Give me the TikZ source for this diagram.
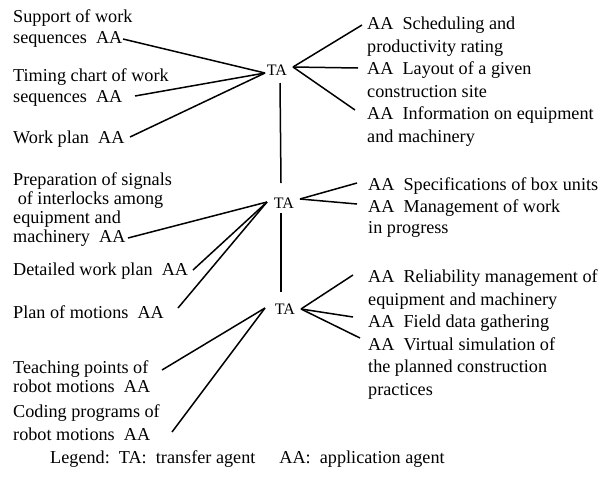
\documentclass[tikz,border=0pt]{standalone}
\usepackage{fontspec}
\setmainfont{Liberation Serif}
\begin{document}
\begin{tikzpicture}[x=1pt,y=-1pt,
  aa/.style={inner sep=0pt, anchor=base west, align=left, font=\fontsize{18.2}{21}\selectfont},
  aatight/.style={aa, font=\fontsize{18.2}{19}\selectfont},
  aawide/.style={aa, font=\fontsize{18.2}{22.5}\selectfont},
  rr/.style={aa, font=\fontsize{18.2}{23}\selectfont},
  ta/.style={inner sep=0pt, font=\fontsize{16}{16}\selectfont},
  link/.style={line width=1.5pt}]
\useasboundingbox (0,0) rectangle (616,483);

% transfer agents
\node[ta] (ta1) at (277,70) {TA};
\node[ta] (ta2) at (284,203) {TA};
\node[ta] (ta3) at (285,309) {TA};

% left application agents (anchor = baseline of last line)
\node[aa] (l1) at (13,43) {Support of work\\sequences\ \ AA};
\node[aa] (l2) at (13,102) {Timing chart of work\\sequences\ \ AA};
\node[aa] (l3) at (13,143) {Work plan\ \ AA};
\node[aatight] (l4) at (13,242) {Preparation of signals\\\ of interlocks among\\equipment and\\machinery\ \ AA};
\node[aa] (l5) at (13,275) {Detailed work plan\ \ AA};
\node[aa] (l6) at (13,318) {Plan of motions\ \ AA};
\node[aatight] (l7) at (13,392) {Teaching points of\\robot motions\ \ AA};
\node[aawide] (l8) at (13,440) {Coding programs of\\robot motions\ \ AA};

% right application agents
\node[rr] (r1) at (367,52) {AA\ \ Scheduling and\\productivity rating};
\node[rr] (r2) at (367,97) {AA\ \ Layout of a given\\construction site};
\node[rr] (r3) at (367,142) {AA\ \ Information on equipment\\and machinery};
\node[rr] (r4) at (368,190) {AA\ \ Specifications of box units};
\node[aa] (r5) at (368,233) {AA\ \ Management of work\\in progress};
\node[aawide] (r6) at (368,305) {AA\ \ Reliability management of\\equipment and machinery};
\node[rr] (r7) at (368,327) {AA\ \ Field data gathering};
\node[aawide] (r8) at (368,395) {AA\ \ Virtual simulation of\\the planned construction\\practices};

% legend
\node[aa] (legend) at (50,463) {Legend:\ \ TA:\ \ transfer agent\hspace{24pt}AA:\ \ application agent};

% connector end points
\coordinate (ta1w) at (265,73);
\coordinate (ta1e) at (293,67);
\coordinate (ta1s) at (280,83);
\coordinate (ta2n) at (281,183);
\coordinate (ta2w) at (267,202);
\coordinate (ta2e) at (300,199);
\coordinate (ta2s) at (281,213);
\coordinate (ta3n) at (281,292);
\coordinate (ta3w) at (265,308);
\coordinate (ta3e) at (301,309);

\coordinate (l1e) at (123,39);
\coordinate (l2e) at (135,96);
\coordinate (l3e) at (130,137);
\coordinate (l4e) at (128,238);
\coordinate (l5e) at (193,270);
\coordinate (l6e) at (178,308);
\coordinate (l7e) at (162,370);
\coordinate (l8e) at (172,432);

\coordinate (r1w) at (362,25);
\coordinate (r2w) at (358,68);
\coordinate (r3w) at (355,110);
\coordinate (r4w) at (357,183);
\coordinate (r5w) at (357,204);
\coordinate (r6w) at (353,275);
\coordinate (r7w) at (353,317);
\coordinate (r8w) at (360,338);

% connectors
\draw[link] (l1e) -- (ta1w);
\draw[link] (l2e) -- (ta1w);
\draw[link] (l3e) -- (ta1w);
\draw[link] (ta1e) -- (r1w);
\draw[link] (ta1e) -- (r2w);
\draw[link] (ta1e) -- (r3w);
\draw[link] (ta1s) -- (ta2n);

\draw[link] (l4e) -- (ta2w);
\draw[link] (l5e) -- (ta2w);
\draw[link] (l6e) -- (ta2w);
\draw[link] (ta2e) -- (r4w);
\draw[link] (ta2e) -- (r5w);
\draw[link] (ta2s) -- (ta3n);

\draw[link] (l7e) -- (ta3w);
\draw[link] (l8e) -- (ta3w);
\draw[link] (ta3e) -- (r6w);
\draw[link] (ta3e) -- (r7w);
\draw[link] (ta3e) -- (r8w);
\end{tikzpicture}
\end{document}
